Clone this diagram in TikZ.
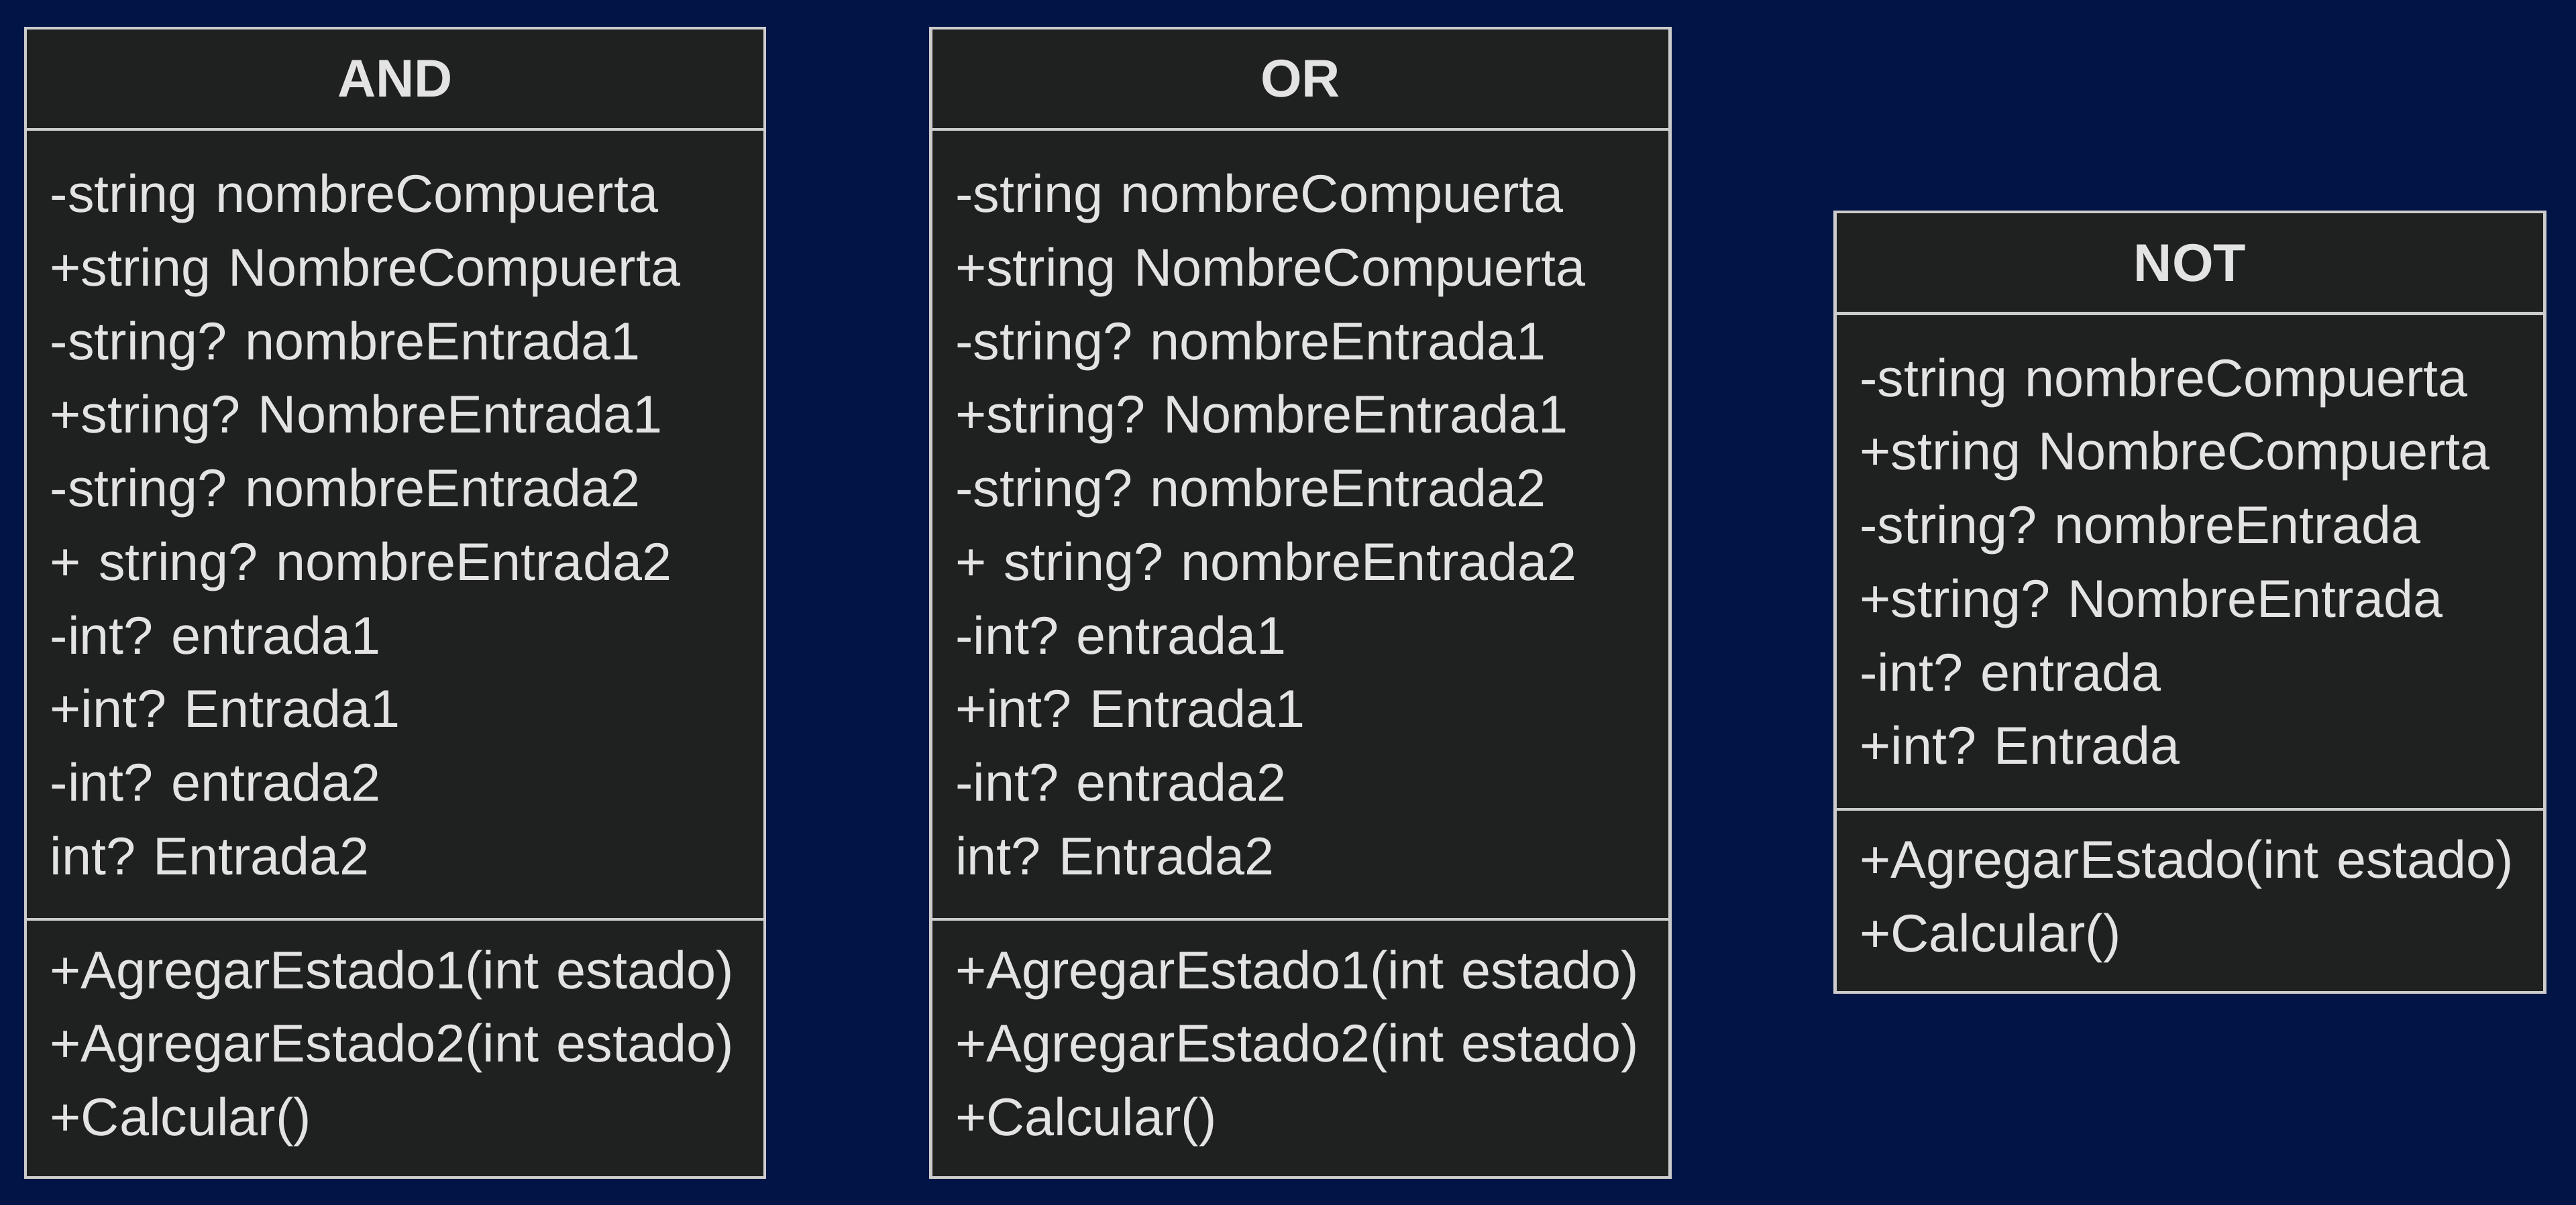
\documentclass[tikz,border=0pt]{standalone}
\usepackage{fontspec}
\setmainfont{Liberation Sans}
\frenchspacing
\usetikzlibrary{positioning}
\definecolor{navyBack}{HTML}{001446}
\definecolor{boxGray}{HTML}{1F2120}
\definecolor{lineGray}{HTML}{CCCCCC}
\definecolor{textGray}{HTML}{E3E3E3}
\tikzstyle{titleBox} = [rectangle, minimum width=9cm, minimum height=1.236cm, text centered, draw=lineGray, line width=1pt, fill=boxGray, text=textGray, outer sep=0pt, font=\bfseries\fontsize{18.4}{25.5}\selectfont]
\tikzstyle{memberBox} = [rectangle, minimum width=9cm, text width=8.4cm, align=left, inner xsep=0.3cm, inner ysep=0pt, draw=lineGray, line width=1pt, fill=boxGray, text=textGray, outer sep=0pt, font=\fontsize{18.4}{25.5}\selectfont]

\begin{document}
\begin{tikzpicture}
\useasboundingbox (0,0) rectangle (31.36,-14.675);
\fill [navyBack] (0,0) rectangle (31.36,-14.675);

% AND
\node (andTitle) [titleBox] at (4.81,-0.96) {AND};
\node (andAttr) [memberBox, minimum height=9.62cm, below=0cm of andTitle] {-string nombreCompuerta\\+string NombreCompuerta\\-string? nombreEntrada1\\+string? NombreEntrada1\\-string? nombreEntrada2\\+ string? nombreEntrada2\\-int? entrada1\\+int? Entrada1\\-int? entrada2\\int? Entrada2};
\node (andMeth) [memberBox, minimum height=3.14cm, below=0cm of andAttr] {+AgregarEstado1(int estado)\\+AgregarEstado2(int estado)\\+Calcular()};

% OR
\node (orTitle) [titleBox] at (15.83,-0.96) {OR};
\node (orAttr) [memberBox, minimum height=9.62cm, below=0cm of orTitle] {-string nombreCompuerta\\+string NombreCompuerta\\-string? nombreEntrada1\\+string? NombreEntrada1\\-string? nombreEntrada2\\+ string? nombreEntrada2\\-int? entrada1\\+int? Entrada1\\-int? entrada2\\int? Entrada2};
\node (orMeth) [memberBox, minimum height=3.14cm, below=0cm of orAttr] {+AgregarEstado1(int estado)\\+AgregarEstado2(int estado)\\+Calcular()};

% NOT
\node (notTitle) [titleBox, minimum width=8.64cm] at (26.66,-3.2) {NOT};
\node (notAttr) [memberBox, minimum width=8.64cm, text width=8.04cm, minimum height=6.04cm, below=0cm of notTitle] {-string nombreCompuerta\\+string NombreCompuerta\\-string? nombreEntrada\\+string? NombreEntrada\\-int? entrada\\+int? Entrada};
\node (notMeth) [memberBox, minimum width=8.64cm, text width=8.04cm, minimum height=2.23cm, below=0cm of notAttr] {+AgregarEstado(int estado)\\+Calcular()};
\end{tikzpicture}
\end{document}
